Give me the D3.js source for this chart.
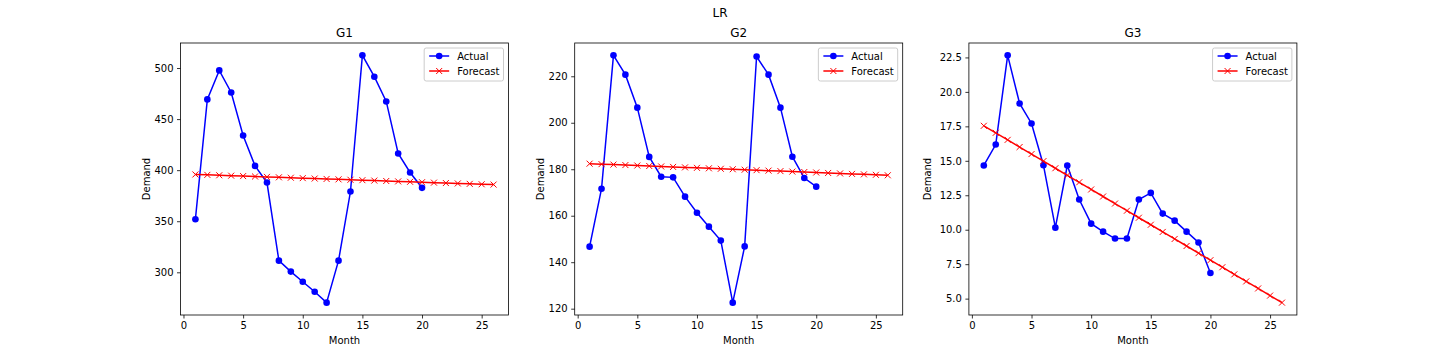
<!DOCTYPE html>
<html><head><meta charset="utf-8">
<script src="https://cdn.jsdelivr.net/npm/d3@7/dist/d3.min.js"></script>
<style>body{margin:0;background:#fff;} svg{display:block;} text{font-family:"DejaVu Sans",sans-serif;fill:#000;}</style>
</head><body><svg id="c" width="1440" height="360"></svg>
<script>
const months = d3.range(1, 21);
const forecastMonths = d3.range(1, 27);
const panelTitles = ["G1", "G2", "G3"];
const g1Actual = [352, 469.3, 497.7, 476.1, 434.0, 404.2, 387.9, 311.4, 300.7, 290.8, 281.0, 270.3, 311.4, 379.1, 512.4, 491.5, 467.3, 416.3, 397.7, 382.7];
const g1Forecast = [395.8, 395.4, 395.0, 394.6, 394.2, 393.8, 393.4, 393.0, 392.6, 392.2, 391.8, 391.4, 391.0, 390.6, 390.2, 389.8, 389.4, 389.0, 388.6, 388.2, 387.8, 387.4, 387.0, 386.6, 386.2, 385.9];
const g2Actual = [146.7, 171.6, 229.0, 220.7, 206.5, 185.3, 176.8, 176.5, 168.2, 161.3, 155.3, 149.3, 122.6, 146.8, 228.5, 220.7, 206.5, 185.4, 176.2, 172.5];
const g2Forecast = [182.4, 182.2, 182.0, 181.8, 181.6, 181.4, 181.2, 181.0, 180.8, 180.6, 180.4, 180.2, 180.0, 179.8, 179.6, 179.4, 179.2, 179.0, 178.8, 178.6, 178.4, 178.2, 178.0, 177.8, 177.6, 177.4];
const g3Actual = [14.66, 16.18, 22.65, 19.16, 17.71, 14.68, 10.15, 14.66, 12.19, 10.44, 9.86, 9.36, 9.36, 12.19, 12.67, 11.17, 10.66, 9.86, 9.07, 6.86];
const g3Forecast = [17.54, 17.03, 16.52, 16.00, 15.49, 14.98, 14.46, 13.95, 13.44, 12.92, 12.41, 11.90, 11.38, 10.87, 10.36, 9.84, 9.33, 8.82, 8.30, 7.79, 7.28, 6.76, 6.25, 5.74, 5.22, 4.71];
const xTicks = [0, 5, 10, 15, 20, 25];
const g1YTicks = [300, 350, 400, 450, 500];
const g2YTicks = [120, 140, 160, 180, 200, 220];
const g3YTicks = [5.0, 7.5, 10.0, 12.5, 15.0, 17.5, 20.0, 22.5];
const yFormats = [d3.format("d"), d3.format("d"), d3.format(".1f")];
const legendLabels = ["Actual", "Forecast"];
const suptitle = "LR";

const panels = [
  {title: panelTitles[0], actual: g1Actual, forecast: g1Forecast, yTicks: g1YTicks},
  {title: panelTitles[1], actual: g2Actual, forecast: g2Forecast, yTicks: g2YTicks},
  {title: panelTitles[2], actual: g3Actual, forecast: g3Forecast, yTicks: g3YTicks}
];

const svg = d3.select("#c");
svg.append("text").attr("x", 720).attr("y", 17).attr("text-anchor", "middle").style("font-size", "12px").text(suptitle);

const W = 328, T = 43, B = 315;
panels.forEach((p, i) => {
  const left = 180.5 + i * 394.2;
  const g = svg.append("g");
  const x = d3.scaleLinear().domain([-0.25, 27.25]).range([left, left + W]);
  const all = p.actual.concat(p.forecast);
  const mn = d3.min(all), mx = d3.max(all), pad = (mx - mn) * 0.05;
  const y = d3.scaleLinear().domain([mn - pad, mx + pad]).range([B, T]);

  const xa = g.append("g").attr("transform", `translate(0,${B})`)
    .call(d3.axisBottom(x).tickValues(xTicks).tickSize(3.5).tickPadding(3.5).tickFormat(d3.format("d")));
  const ya = g.append("g").attr("transform", `translate(${left},0)`)
    .call(d3.axisLeft(y).tickValues(p.yTicks).tickSize(3.5).tickPadding(3.5).tickFormat(yFormats[i]));
  [xa, ya].forEach(a => {
    a.select(".domain").remove();
    a.selectAll("line").attr("stroke", "#000").attr("stroke-width", 0.8);
    a.selectAll("text").style("font-size", "10px").attr("font-family", "DejaVu Sans").attr("fill", "#000");
  });

  const clipId = "clip" + i;
  g.append("clipPath").attr("id", clipId).append("rect").attr("x", left).attr("y", T).attr("width", W).attr("height", B - T);
  const plot = g.append("g").attr("clip-path", `url(#${clipId})`);

  const line = d3.line();
  const aPts = months.map((m, k) => [x(m), y(p.actual[k])]);
  const fPts = forecastMonths.map((m, k) => [x(m), y(p.forecast[k])]);
  plot.append("path").attr("d", line(aPts)).attr("fill", "none").attr("stroke", "#0000ff").attr("stroke-width", 1.5);
  plot.selectAll(".dot").data(aPts).enter().append("circle").attr("cx", d => d[0]).attr("cy", d => d[1]).attr("r", 3.3).attr("fill", "#0000ff");
  plot.append("path").attr("d", line(fPts)).attr("fill", "none").attr("stroke", "#ff0000").attr("stroke-width", 1.5);
  const xm = 3;
  plot.selectAll(".xm").data(fPts).enter().append("path")
    .attr("d", d => `M${d[0]-xm},${d[1]-xm}L${d[0]+xm},${d[1]+xm}M${d[0]-xm},${d[1]+xm}L${d[0]+xm},${d[1]-xm}`)
    .attr("stroke", "#ff0000").attr("stroke-width", 1);

  g.append("rect").attr("x", left).attr("y", T).attr("width", W).attr("height", B - T)
    .attr("fill", "none").attr("stroke", "#000").attr("stroke-width", 0.8);

  g.append("text").attr("x", left + W / 2).attr("y", T - 6).attr("text-anchor", "middle").style("font-size", "12px").text(p.title);
  g.append("text").attr("x", left + W / 2).attr("y", 344).attr("text-anchor", "middle").style("font-size", "10px").text("Month");
  const yl = i === 2 ? left - 38 : left - 31;
  g.append("text").attr("transform", `translate(${yl},${(T + B) / 2}) rotate(-90)`).attr("text-anchor", "middle").style("font-size", "10px").text("Demand");

  // legend
  const lg = g.append("g");
  const rows = lg.selectAll(".r").data(legendLabels).enter().append("text")
    .attr("y", (d, k) => 48 + 8 + k * 15 + 3.5).style("font-size", "10px").text(d => d);
  const tw = d3.max(rows.nodes(), n => n.getComputedTextLength());
  const lw = 33 + tw + 4, lh = 33;
  const x0 = left + W - 5 - lw, y0 = 48;
  rows.attr("x", x0 + 33);
  lg.insert("rect", "text").attr("x", x0).attr("y", y0).attr("width", lw).attr("height", lh).attr("rx", 2)
    .attr("fill", "#fff").attr("fill-opacity", 0.8).attr("stroke", "#cccccc").attr("stroke-width", 1);
  legendLabels.forEach((lab, k) => {
    const cy = y0 + 8 + k * 15, hx0 = x0 + 5, hx1 = x0 + 25, cx = (hx0 + hx1) / 2;
    const col = k === 0 ? "#0000ff" : "#ff0000";
    lg.append("line").attr("x1", hx0).attr("x2", hx1).attr("y1", cy).attr("y2", cy).attr("stroke", col).attr("stroke-width", 1.5);
    if (k === 0) lg.append("circle").attr("cx", cx).attr("cy", cy).attr("r", 3.3).attr("fill", col);
    else lg.append("path").attr("d", `M${cx-xm},${cy-xm}L${cx+xm},${cy+xm}M${cx-xm},${cy+xm}L${cx+xm},${cy-xm}`).attr("stroke", col).attr("stroke-width", 1);
  });
});
</script></body></html>
